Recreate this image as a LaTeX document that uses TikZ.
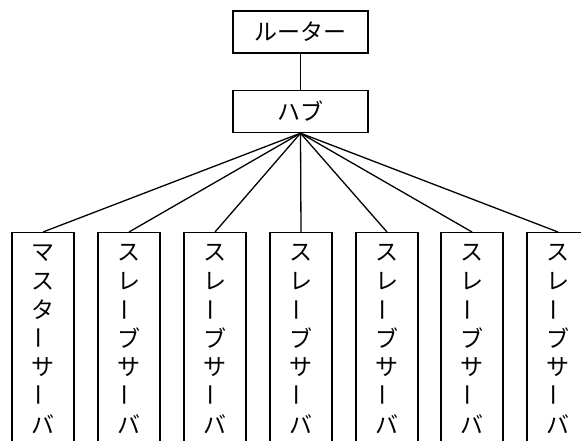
\documentclass[tikz,border=0pt]{standalone}
\usepackage{fontspec}
\usepackage{graphicx}
\newfontfamily\jp{Noto Sans CJK JP}
\newcommand{\vcell}[1]{\hbox to 40pt{\hss\vbox to 28.5pt{\vss\hbox{#1}\vss}\hss}}
\newcommand{\vbarchar}{\rotatebox[origin=c]{90}{ー}}
\newcommand{\vtext}[7]{\vbox{\offinterlineskip\vcell{#1}\vcell{#2}\vcell{#3}\vcell{#4}\vcell{#5}\vcell{#6}\vcell{#7}}}
\tikzset{
  topbox/.style={draw, line width=1.4pt, minimum width=135pt, minimum height=42pt, inner sep=0pt, font=\jp\fontsize{23}{27}\selectfont},
  srvbox/.style={draw, line width=1.4pt, minimum width=62pt, minimum height=211pt, inner sep=0pt, anchor=north, font=\jp\fontsize{23}{27}\selectfont},
  link/.style={line width=1.3pt}
}
\begin{document}
\begin{tikzpicture}[x=1pt,y=1pt]
\useasboundingbox (0,0) rectangle (581,-441);
\node[topbox] (router) at (300.5,-32) {ルーター};
\node[topbox] (hub) at (300.5,-111.5) {ハブ};
\node[srvbox] (s1) at (43,-232) {\vtext{マ}{ス}{タ}{\vbarchar}{サ}{\vbarchar}{バ}};
\node[srvbox] (s2) at (129,-232) {\vtext{ス}{レ}{\vbarchar}{ブ}{サ}{\vbarchar}{バ}};
\node[srvbox] (s3) at (215,-232) {\vtext{ス}{レ}{\vbarchar}{ブ}{サ}{\vbarchar}{バ}};
\node[srvbox] (s4) at (301,-232) {\vtext{ス}{レ}{\vbarchar}{ブ}{サ}{\vbarchar}{バ}};
\node[srvbox] (s5) at (387,-232) {\vtext{ス}{レ}{\vbarchar}{ブ}{サ}{\vbarchar}{バ}};
\node[srvbox] (s6) at (472,-232) {\vtext{ス}{レ}{\vbarchar}{ブ}{サ}{\vbarchar}{バ}};
\node[srvbox] (s7) at (558,-232) {\vtext{ス}{レ}{\vbarchar}{ブ}{サ}{\vbarchar}{バ}};
\draw[link] (router) -- (hub);
\foreach \s in {s1,s2,s3,s4,s5,s6,s7} \draw[link] (hub.south) -- (\s.north);
\end{tikzpicture}
\end{document}
